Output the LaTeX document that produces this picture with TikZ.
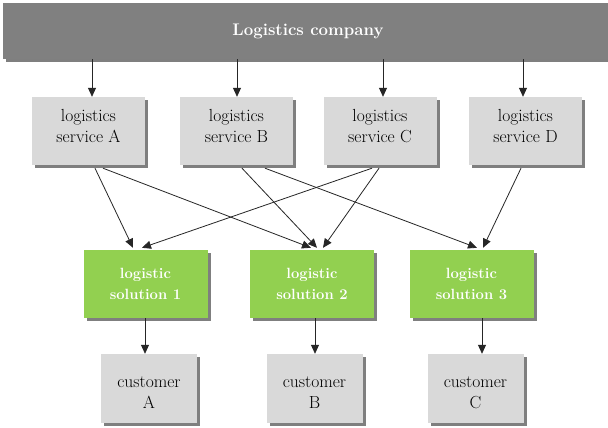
\documentclass[tikz,border=0pt]{standalone}
\usetikzlibrary{shadows,arrows.meta}
\definecolor{bargray}{HTML}{808080}
\definecolor{boxgray}{HTML}{D9D9D9}
\definecolor{solgreen}{HTML}{92D050}
\definecolor{shadowgray}{HTML}{7F7F7F}
\tikzset{
  shad/.style={drop shadow={shadow xshift=3pt,shadow yshift=-3pt,fill=shadowgray,opacity=1}},
  servbox/.style={shad,fill=boxgray,minimum width=113pt,minimum height=68pt,inner sep=0pt,
    align=center,text depth=10pt,font=\fontsize{17.5}{21}\selectfont},
  solbox/.style={shad,fill=solgreen,minimum width=124pt,minimum height=68pt,inner sep=0pt,
    align=center,text=white,font=\fontsize{14.8}{21}\selectfont\bfseries},
  custbox/.style={shad,fill=boxgray,minimum width=96pt,minimum height=69pt,inner sep=0pt,
    align=center,text height=42pt,text depth=2pt,font=\fontsize{17.5}{21}\selectfont},
  conn/.style={draw=black!85,line width=0.8pt,-{Triangle[length=9pt,width=8pt]}},
}
\begin{document}
\begin{tikzpicture}[x=1pt,y=-1pt]
\useasboundingbox (0,0) rectangle (608,428);
\fill[white] (0,0) rectangle (608,428);
\node[shad,fill=bargray,minimum width=610pt,minimum height=56pt,inner sep=0pt,
  text=white,font=\fontsize{16.8}{22}\selectfont\bfseries] (bar) at (308,31) {Logistics company};
\node[servbox] (sA) at (88.5,131) {logistics\\service A};
\node[servbox] (sB) at (236.5,131) {logistics\\service B};
\node[servbox] (sC) at (380,131) {logistics\\service C};
\node[servbox] (sD) at (525.5,131) {logistics\\service D};
\node[solbox] (s1) at (145.5,284) {logistic\\solution 1};
\node[solbox] (s2) at (312,284) {logistic\\solution 2};
\node[solbox] (s3) at (471.5,284) {logistic\\solution 3};
\node[custbox] (cA) at (149,388.5) {customer\\A};
\node[custbox] (cB) at (314.5,388.5) {customer\\B};
\node[custbox] (cC) at (475.5,388.5) {customer\\C};
% company to services
\foreach \n/\dx in {sA/3.5,sB/0.5,sC/3,sD/-2.5}{
  \draw[conn] ([xshift=\dx pt]bar.south -| \n.north) -- ([xshift=\dx pt]\n.north);
}
% services to solutions
\draw[conn] ([xshift=6.5pt,yshift=-3pt]sA.south) -- ([xshift=-12.5pt,yshift=2pt]s1.north);
\draw[conn] ([xshift=14.5pt,yshift=-3pt]sA.south) -- ([xshift=-1pt,yshift=2pt]s2.north);
\draw[conn] ([xshift=5.5pt,yshift=-3pt]sB.south) -- ([xshift=5pt,yshift=2pt]s2.north);
\draw[conn] ([xshift=28.5pt,yshift=-3pt]sB.south) -- ([xshift=5.5pt,yshift=2pt]s3.north);
\draw[conn] ([xshift=-8pt,yshift=-3pt]sC.south) -- ([xshift=-3.5pt,yshift=2pt]s1.north);
\draw[conn] ([xshift=-1pt,yshift=-3pt]sC.south) -- ([xshift=11pt,yshift=2pt]s2.north);
\draw[conn] ([xshift=-4.5pt,yshift=-3pt]sD.south) -- ([xshift=11.5pt,yshift=2pt]s3.north);
% solutions to customers
\draw[conn] ([xshift=-0.5pt]s1.south) -- ([xshift=-0.5pt]s1.south |- cA.north);
\draw[conn] ([xshift=3pt]s2.south) -- ([xshift=3pt]s2.south |- cB.north);
\draw[conn] ([xshift=10.5pt]s3.south) -- ([xshift=10.5pt]s3.south |- cC.north);
\end{tikzpicture}
\end{document}
